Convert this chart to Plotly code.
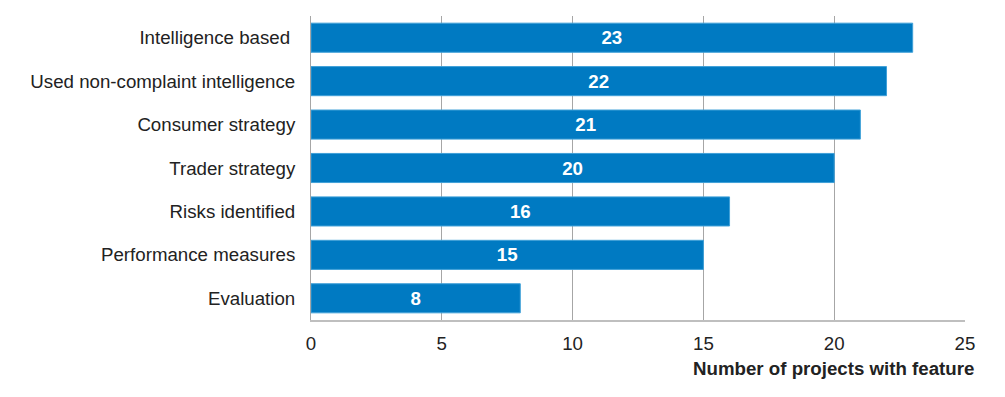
import plotly.graph_objects as go

categories = ["Intelligence based ", "Used non-complaint intelligence", "Consumer strategy",
              "Trader strategy", "Risks identified", "Performance measures", "Evaluation"]
values = [23, 22, 21, 20, 16, 15, 8]
x_ticks = [0, 5, 10, 15, 20, 25]
x_title = "Number of projects with feature"

FS = 18.7
FONT = "Liberation Sans, Arial"

fig = go.Figure(go.Bar(
    y=categories, x=values, orientation="h",
    marker=dict(color="#007AC2", line=dict(color="#3FA0D8", width=1)),
    text=[str(v) for v in values], textposition="inside", insidetextanchor="middle",
    textfont=dict(family=FONT, size=FS, color="white", weight="bold"),
    textangle=0,
))

# page has an 8px body margin: figure sits at (8, 8)
fig.update_layout(
    width=989, height=381,
    margin=dict(l=303, r=32, t=8, b=69),
    paper_bgcolor="white", plot_bgcolor="white",
    bargap=0.33,
    showlegend=False,
    font=dict(family=FONT, size=FS, color="#222222"),
    xaxis=dict(range=[0, 25], tickvals=x_ticks, showgrid=True, gridcolor="#A6A6A6", gridwidth=1,
               zeroline=False, showline=True, linecolor="#BFBFBF", linewidth=1.5,
               ticks="", ticklabelstandoff=6, tickfont=dict(size=FS, color="#222222")),
    yaxis=dict(categoryorder="array", categoryarray=categories, autorange="reversed",
               showline=True, linecolor="#A6A6A6", linewidth=1, ticks="",
               ticklabelstandoff=11, tickfont=dict(size=FS, color="#222222")),
    annotations=[dict(text="<b>" + x_title + "</b>", xref="paper", yref="paper",
                      x=(976 - 311) / 654, y=(320 - 368) / 304, xanchor="right", yanchor="middle",
                      showarrow=False, font=dict(size=FS, color="#222222"))],
)

fig.write_html("out.html")
